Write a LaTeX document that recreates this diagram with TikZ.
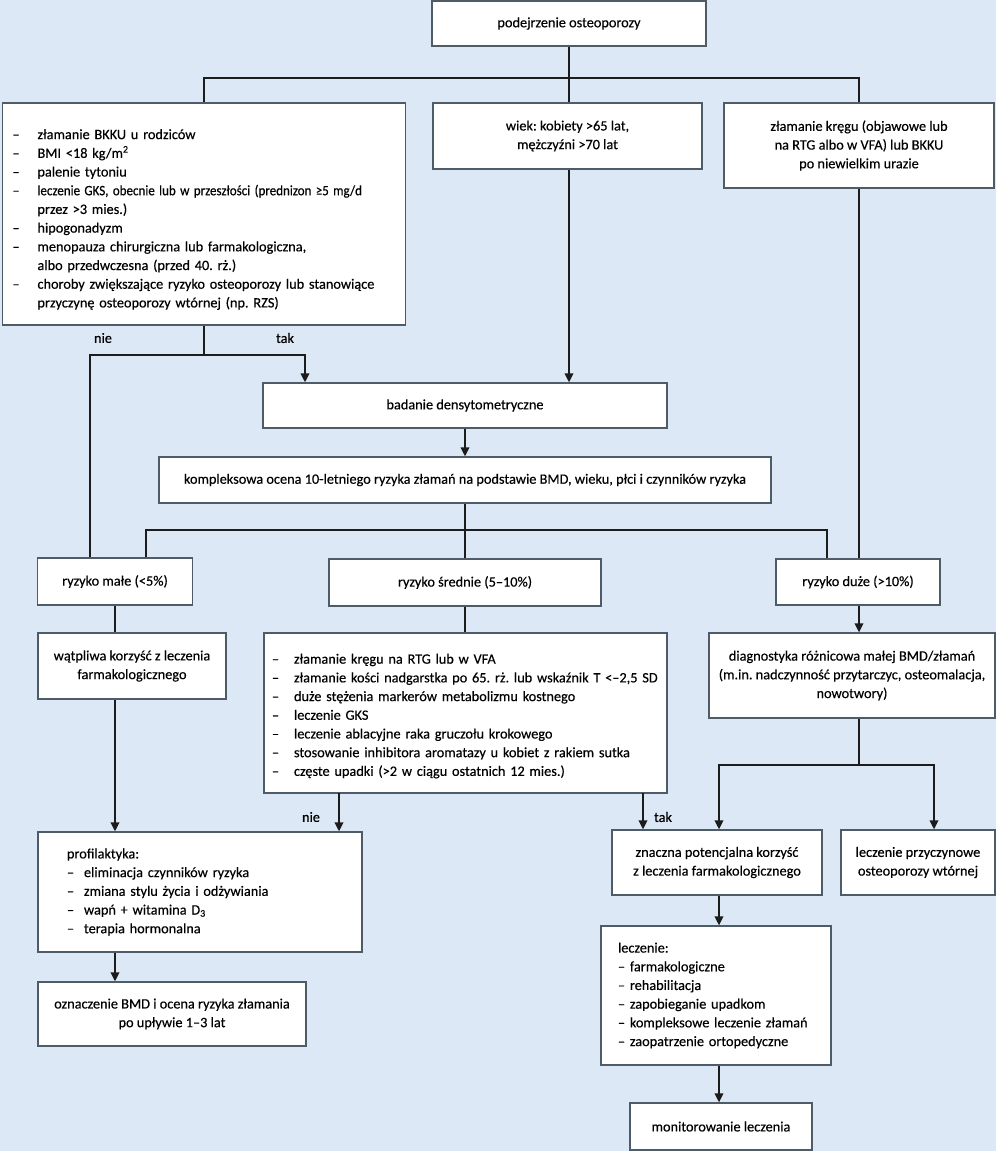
\documentclass[tikz,border=0pt]{standalone}
\usepackage{fontspec}
\setmainfont{Carlito}[FakeBold=0.35]
\usetikzlibrary{arrows.meta,calc}
\definecolor{bgc}{RGB}{221,232,246}
\definecolor{bordc}{RGB}{78,92,104}
\definecolor{lnc}{RGB}{28,28,28}
\newcommand{\itm}{\makebox[25pt][l]{–}}
\newcommand{\ind}{\hspace*{25pt}}
\newcommand{\itmb}{\makebox[22pt][l]{–}}
\newcommand{\itmc}{\makebox[17pt][l]{–}}
\frenchspacing
\begin{document}
\begin{tikzpicture}[x=1pt,y=-1pt,
  box/.style={draw=bordc, line width=1.3pt, fill=white, inner sep=0pt, align=center,
    font=\fontsize{14.3}{18.7}\selectfont},
  bx/.style n args={2}{box, minimum width=#1pt, minimum height=#2pt},
  lbl/.style={inner sep=0pt, font=\fontsize{14.3}{18.7}\selectfont},
  ln/.style={draw=lnc, line width=1.9pt},
  arr/.style={ln, -{Triangle[length=9pt,width=8.5pt]}}]
\fill[bgc] (0,0) rectangle (996,1151);
\useasboundingbox (0,0) rectangle (996,1151);

\node[bx={274}{45}] (top) at (569,23.5) {podejrzenie osteoporozy};
\node[bx={403}{222}, text width=383pt, align=left] (left) at (204,214) {%
\itm\rule{0pt}{21pt}złamanie BKKU u rodziców\\
\itm BMI <18 kg/m\textsuperscript{2}\\
\itm palenie tytoniu\\
\itm\scalebox{0.91}[1]{leczenie GKS, obecnie lub w przeszłości (prednizon ≥5 mg/d}\\
\ind przez >3 mies.)\\
\itm hipogonadyzm\\
\itm menopauza chirurgiczna lub farmakologiczna,\\
\ind albo przedwczesna (przed 40. rż.)\\
\itm choroby zwiększające ryzyko osteoporozy lub stanowiące\\
\ind przyczynę osteoporozy wtórnej (np. RZS)};
\node[bx={269}{66}] (wiek) at (567.5,136) {wiek: kobiety >65 lat,\\ mężczyźni >70 lat};
\node[bx={270}{85}] (right) at (859,145.5) {złamanie kręgu (objawowe lub\\ na RTG albo w VFA) lub BKKU\\ po niewielkim urazie};
\node[bx={404}{45}] (bad) at (465,405.5) {badanie densytometryczne};
\node[bx={612}{46}] (komp) at (465,480) {kompleksowa ocena 10-letniego ryzyka złamań na podstawie BMD, wieku, płci i czynników ryzyka};
\node[bx={155}{47}] (malo) at (115,581.5) {ryzyko małe (<5\%)};
\node[bx={272}{47}] (sred) at (465,582.5) {ryzyko średnie (5–10\%)};
\node[bx={164}{46}] (duze) at (858,582) {ryzyko duże (>10\%)};
\node[bx={188}{66}] (watp) at (132,666) {wątpliwa korzyść z leczenia\\ farmakologicznego};
\node[bx={403}{160}, text width=387pt, align=left] (slist) at (465.5,713) {%
\itmb\rule{0pt}{16pt}złamanie kręgu na RTG lub w VFA\\
\itmb złamanie kości nadgarstka po 65. rż. lub wskaźnik T <–2,5 SD\\
\itmb duże stężenia markerów metabolizmu kostnego\\
\itmb leczenie GKS\\
\itmb leczenie ablacyjne raka gruczołu krokowego\\
\itmb stosowanie inhibitora aromatazy u kobiet z rakiem sutka\\
\itmb częste upadki (>2 w ciągu ostatnich 12 mies.)};
\node[bx={286}{85}] (diag) at (852,675.5) {diagnostyka różnicowa małej BMD/złamań\\ (m.in. nadczynność przytarczyc, osteomalacja,\\ nowotwory)};
\node[bx={210}{65}] (znac) at (717,862.5) {znaczna potencjalna korzyść\\ z leczenia farmakologicznego};
\node[bx={154}{65}] (przy) at (918,862.5) {leczenie przyczynowe\\ osteoporozy wtórnej};
\node[bx={324}{120}, text width=266pt, align=left] (prof) at (200,892) {%
profilaktyka:\\
\itmc eliminacja czynników ryzyka\\
\itmc zmiana stylu życia i odżywiania\\
\itmc wapń + witamina D\textsubscript{3}\\
\itmc terapia hormonalna};
\node[bx={268}{64}] (ozn) at (172,1014) {oznaczenie BMD i ocena ryzyka złamania\\ po upływie 1–3 lat};
\node[bx={230}{139}, text width=196pt, align=left] (lecz) at (716,995.5) {%
leczenie:\\
– farmakologiczne\\
– rehabilitacja\\
– zapobieganie upadkom\\
– kompleksowe leczenie złamań\\
– zaopatrzenie ortopedyczne};
\node[bx={182}{47}] (moni) at (721,1126.5) {monitorowanie leczenia};

\node[lbl] (lnie1) at (103,338) {nie};
\node[lbl] (ltak1) at (285,338) {tak};
\node[lbl] (lnie2) at (311,817) {nie};
\node[lbl] (ltak2) at (663,817) {tak};

\coordinate (j1) at (569,78);
\coordinate (j2) at (204,355);
\coordinate (n1) at (90,355);
\coordinate (t1) at (305,355);
\coordinate (h1) at (146,530);
\coordinate (h2) at (827,530);
\coordinate (sn) at (339,793);
\coordinate (st) at (643,793);
\coordinate (j4) at (859,765);
\coordinate (k1) at (719,765);
\coordinate (k2) at (934,765);

\draw[ln] (top.south) -- (top.south |- wiek.north);
\draw[ln] (left.north) |- (j1) -| (right.north);
\draw[ln] (left.south) -- (j2);
\draw[ln] (j2) -- (n1) -- (n1 |- malo.north);
\draw[arr] (j2) -- (t1) -- (t1 |- bad.north);
\draw[arr] (wiek.south -| top.south) -- (top.south |- bad.north);
\draw[arr] (bad.south) -- (komp.north);
\draw[ln] (komp.south) -- (sred.north);
\draw[ln] (h1 |- malo.north) -- (h1) -- (h2) -- (h2 |- duze.north);
\draw[ln] (right.south) -- (right.south |- duze.north);
\draw[ln] (malo.south) -- (malo.south |- watp.north);
\draw[arr] (watp.south -| malo.south) -- (malo.south |- prof.north);
\draw[arr] (prof.south -| malo.south) -- (malo.south |- ozn.north);
\draw[ln] (sred.south) -- (slist.north -| sred.south);
\draw[arr] (sn) -- (sn |- prof.north);
\draw[arr] (st) -- (st |- znac.north);
\draw[arr] (duze.south -| right.south) -- (diag.north -| right.south);
\draw[ln] (diag.south -| right.south) -- (j4);
\draw[arr] (j4) -- (k1) -- (k1 |- znac.north);
\draw[arr] (j4) -- (k2) -- (k2 |- przy.north);
\draw[arr] (znac.south -| k1) -- (k1 |- lecz.north);
\draw[arr] (lecz.south -| k1) -- (k1 |- moni.north);
\end{tikzpicture}
\end{document}
